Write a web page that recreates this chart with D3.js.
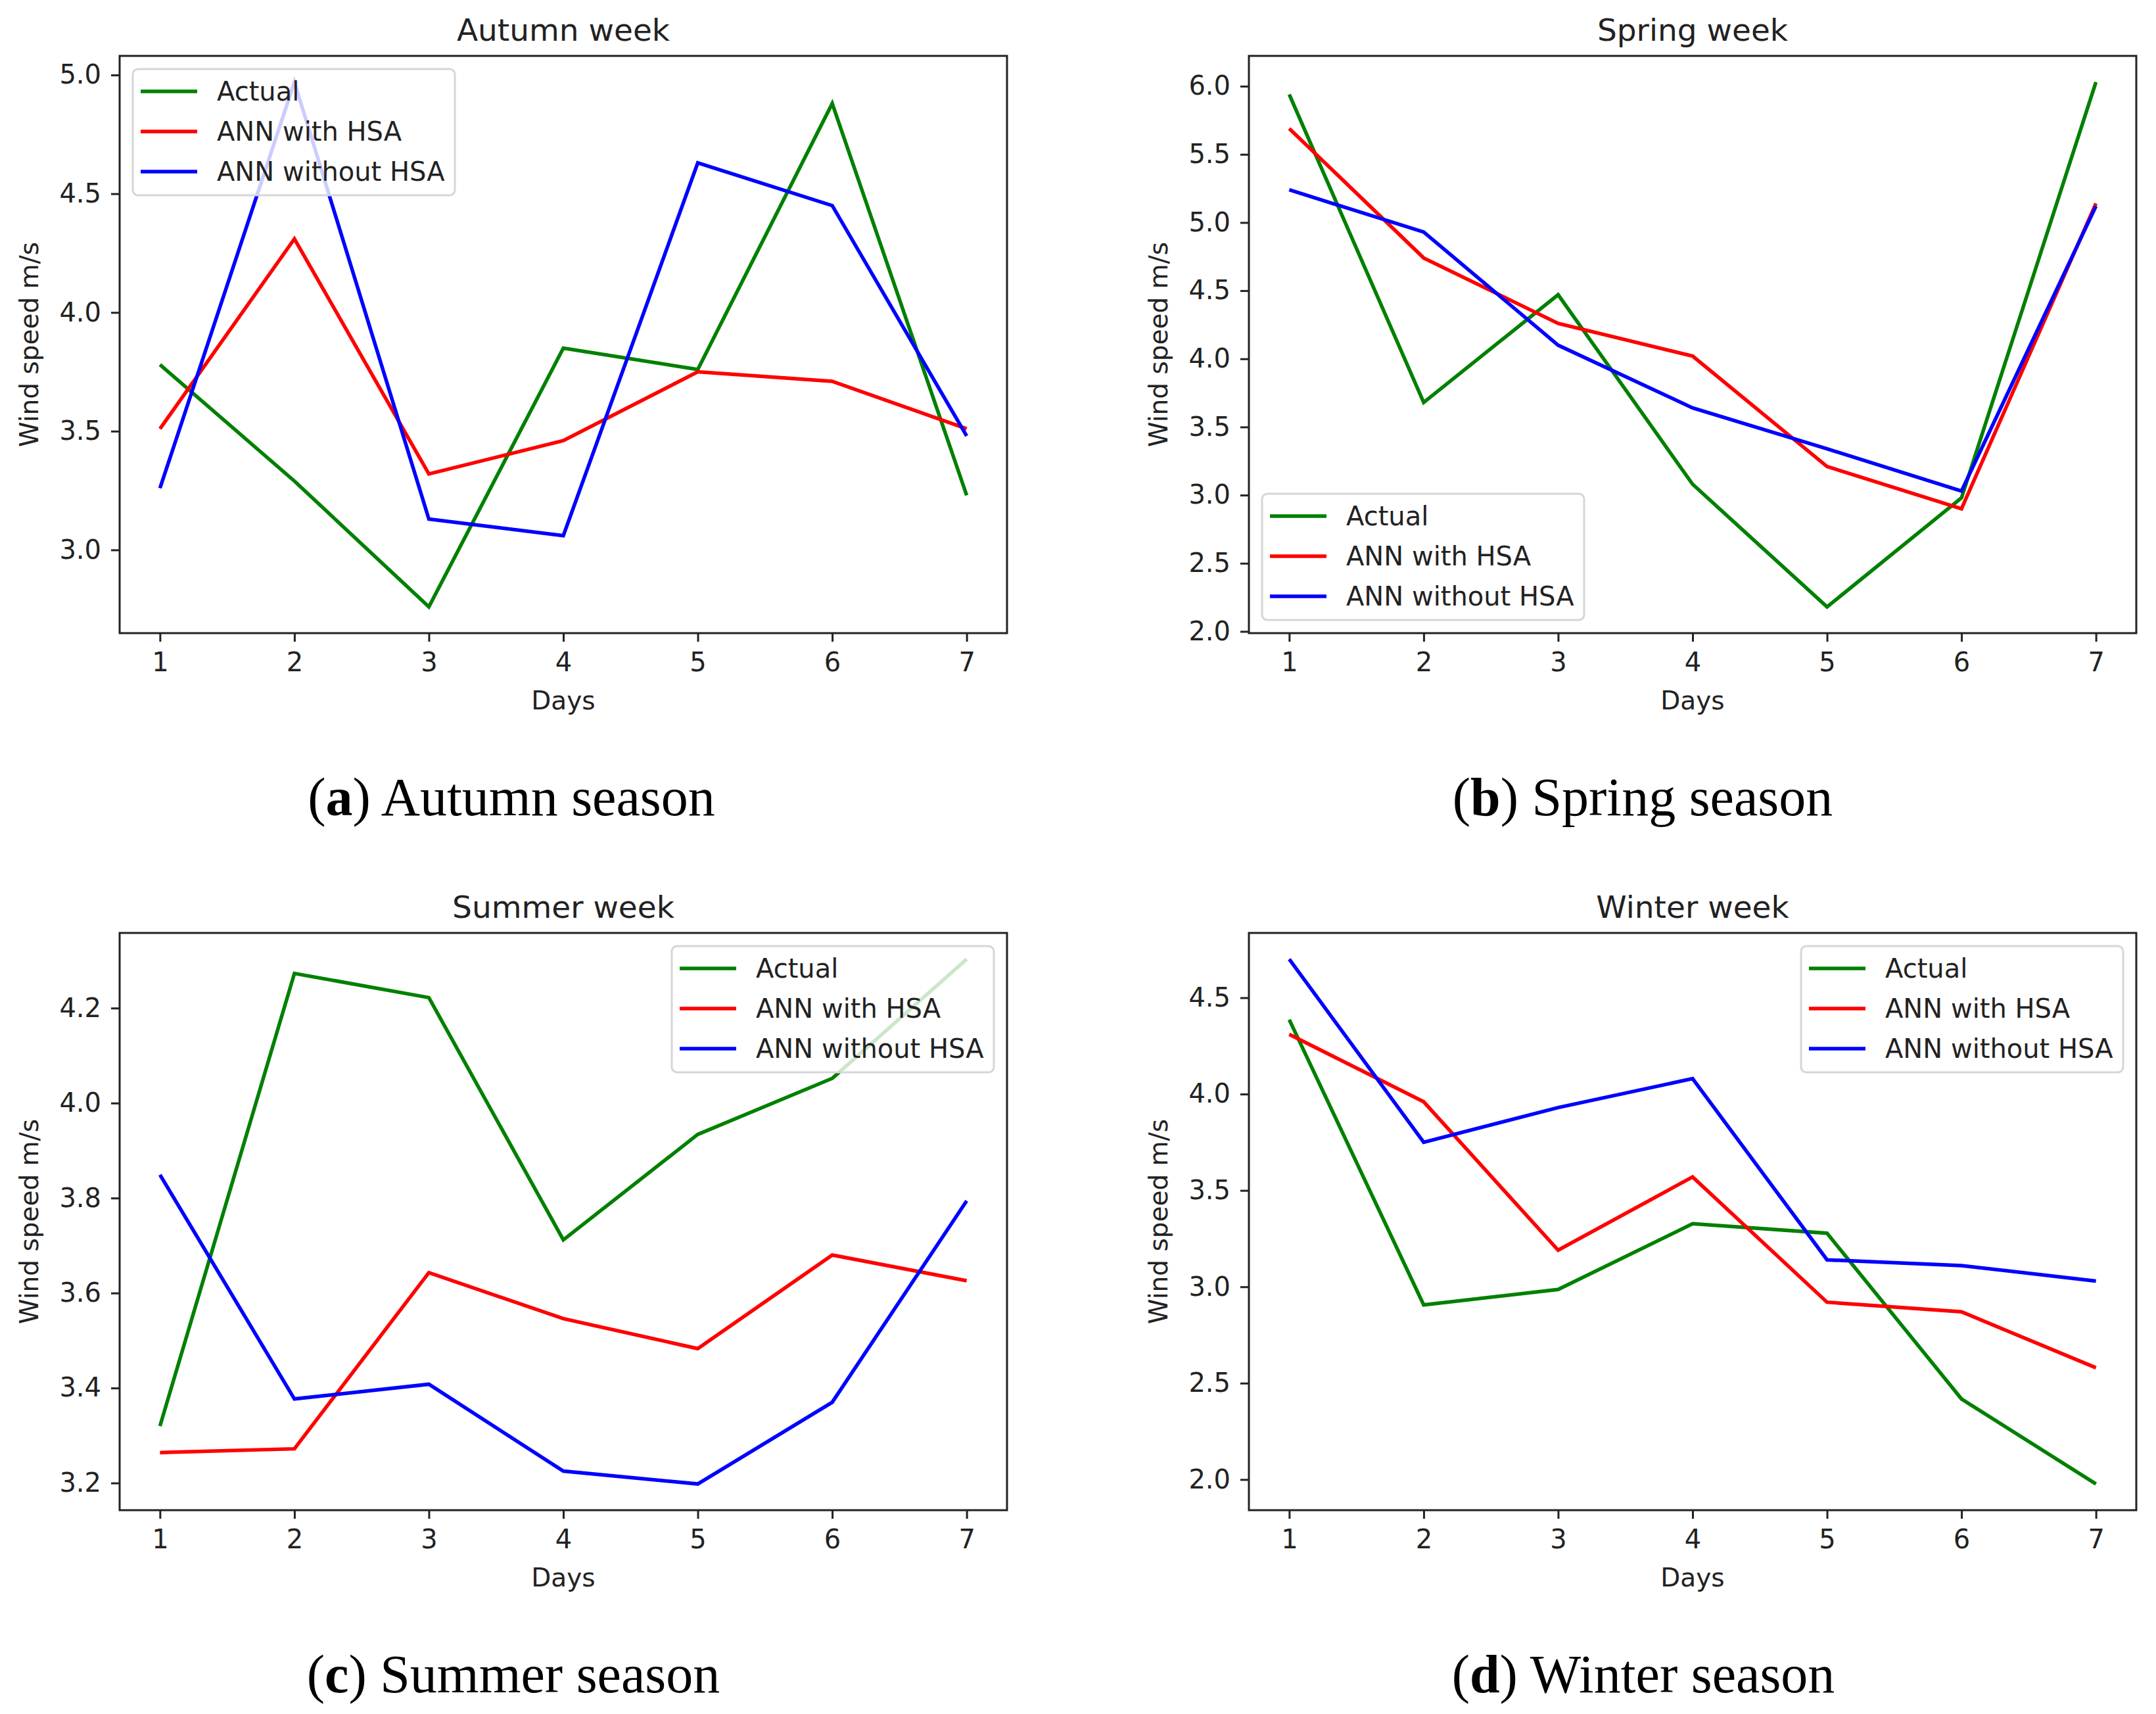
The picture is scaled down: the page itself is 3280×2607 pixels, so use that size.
<!DOCTYPE html>
<html>
<head>
<meta charset="utf-8">
<script src="https://cdn.jsdelivr.net/npm/d3@7"></script>
<style>
  body { margin: 0; background: #fff; }
  svg { display: block; }
</style>
</head>
<body>
<svg id="chart" width="3280" height="2607"></svg>
<script>
// days on the x axis
const days = [1, 2, 3, 4, 5, 6, 7];
const seriesNames = ["Actual", "ANN with HSA", "ANN without HSA"];
const seriesColors = ["#008000", "#ff0000", "#0000ff"];

// autumn week
const autumnActual = [3.78, 3.29, 2.76, 3.85, 3.76, 4.88, 3.23];
const autumnHSA = [3.51, 4.31, 3.32, 3.46, 3.75, 3.71, 3.51];
const autumnNoHSA = [3.26, 4.97, 3.13, 3.06, 4.63, 4.45, 3.48];
const autumnTicks = [3.0, 3.5, 4.0, 4.5, 5.0];

// spring week
const springActual = [5.94, 3.68, 4.47, 3.08, 2.18, 2.98, 6.03];
const springHSA = [5.69, 4.74, 4.26, 4.02, 3.21, 2.90, 5.14];
const springNoHSA = [5.24, 4.93, 4.10, 3.64, 3.34, 3.03, 5.12];
const springTicks = [2.0, 2.5, 3.0, 3.5, 4.0, 4.5, 5.0, 5.5, 6.0];

// summer week
const summerActual = [3.32, 4.273, 4.222, 3.712, 3.934, 4.052, 4.303];
const summerHSA = [3.264, 3.272, 3.643, 3.546, 3.483, 3.680, 3.626];
const summerNoHSA = [3.849, 3.377, 3.408, 3.225, 3.198, 3.370, 3.794];
const summerTicks = [3.2, 3.4, 3.6, 3.8, 4.0, 4.2];

// winter week
const winterActual = [4.386, 2.906, 2.986, 3.327, 3.278, 2.418, 1.977];
const winterHSA = [4.31, 3.96, 3.19, 3.57, 2.92, 2.87, 2.58];
const winterNoHSA = [4.70, 3.75, 3.93, 4.08, 3.14, 3.11, 3.03];
const winterTicks = [2.0, 2.5, 3.0, 3.5, 4.0, 4.5];

const panels = [
  { title: "Autumn week", letter: "a", caption: " Autumn season", series: [autumnActual, autumnHSA, autumnNoHSA], ticks: autumnTicks,
    left: 182, top: 85, capX: 778, legend: "upper left" },
  { title: "Spring week", letter: "b", caption: " Spring season", series: [springActual, springHSA, springNoHSA], ticks: springTicks,
    left: 1900, top: 85, capX: 2499, legend: "lower left" },
  { title: "Summer week", letter: "c", caption: " Summer season", series: [summerActual, summerHSA, summerNoHSA], ticks: summerTicks,
    left: 182, top: 1419, capX: 781, legend: "upper right" },
  { title: "Winter week", letter: "d", caption: " Winter season", series: [winterActual, winterHSA, winterNoHSA], ticks: winterTicks,
    left: 1900, top: 1419, capX: 2500, legend: "upper right" }
];

const W = 1350, H = 878;
const font = "DejaVu Sans";
const ink = "#222";
const svg = d3.select("#chart");

panels.forEach(p => {
  const g = svg.append("g").attr("transform", `translate(${p.left},${p.top})`);

  // matplotlib style 5% margins
  const x = d3.scaleLinear().domain([0.7, 7.3]).range([0, W]);
  const all = p.series.flat();
  const lo = d3.min(all), hi = d3.max(all), pad = (hi - lo) * 0.05;
  const y = d3.scaleLinear().domain([lo - pad, hi + pad]).range([H, 0]);

  const line = d3.line().x((d, i) => x(days[i])).y(d => y(d));
  p.series.forEach((s, i) => {
    g.append("path")
      .datum(s)
      .attr("d", line)
      .attr("fill", "none")
      .attr("stroke", seriesColors[i])
      .attr("stroke-width", 5.5)
      .attr("stroke-linejoin", "miter");
  });

  // axes
  const xAxis = g.append("g").attr("transform", `translate(0,${H})`)
    .call(d3.axisBottom(x).tickValues(days).tickSize(13).tickPadding(17).tickFormat(d3.format("d")));
  const yAxis = g.append("g")
    .call(d3.axisLeft(y).tickValues(p.ticks).tickSize(13).tickPadding(15).tickFormat(d3.format(".1f")));
  [xAxis, yAxis].forEach(a => {
    a.select(".domain").remove();
    a.selectAll("line").attr("stroke", ink).attr("stroke-width", 3);
    a.selectAll("text").attr("font-family", font).attr("font-size", 40).attr("fill", ink);
  });

  g.append("rect")
    .attr("width", W).attr("height", H)
    .attr("fill", "none").attr("stroke", ink).attr("stroke-width", 3);

  // titles and labels
  g.append("text").attr("x", W / 2).attr("y", -23)
    .attr("text-anchor", "middle").attr("font-family", font).attr("font-size", 47).attr("fill", ink)
    .text(p.title);
  g.append("text").attr("x", W / 2).attr("y", H + 116)
    .attr("text-anchor", "middle").attr("font-family", font).attr("font-size", 39).attr("fill", ink)
    .text("Days");
  g.append("text")
    .attr("transform", `translate(-138,${H / 2}) rotate(-90)`)
    .attr("text-anchor", "middle").attr("dominant-baseline", "central")
    .attr("font-family", font).attr("font-size", 39).attr("fill", ink)
    .text("Wind speed m/s");

  // legend
  const lw = 490, lh = 192;
  const lx = p.legend === "upper right" ? W - 20 - lw : 20;
  const ly = p.legend === "lower left" ? H - 20 - lh : 20;
  const lg = g.append("g").attr("transform", `translate(${lx},${ly})`);
  lg.append("rect").attr("width", lw).attr("height", lh).attr("rx", 8)
    .attr("fill", "#fff").attr("fill-opacity", 0.8)
    .attr("stroke", "#d6d6d6").attr("stroke-width", 3);
  seriesNames.forEach((n, i) => {
    const ry = 34 + i * 61;
    lg.append("line").attr("x1", 12).attr("x2", 98).attr("y1", ry).attr("y2", ry)
      .attr("stroke", seriesColors[i]).attr("stroke-width", 5.5);
    lg.append("text").attr("x", 128).attr("y", ry).attr("dominant-baseline", "central")
      .attr("font-family", font).attr("font-size", 40).attr("fill", ink).text(n);
  });

  // subfigure caption
  const cap = svg.append("text")
    .attr("x", p.capX).attr("y", p.top + 1155)
    .attr("text-anchor", "middle")
    .attr("font-family", "Liberation Serif").attr("font-size", 82).attr("fill", "#000");
  cap.append("tspan").text("(");
  cap.append("tspan").attr("font-weight", "bold").text(p.letter);
  cap.append("tspan").text(")" + p.caption);
});
</script>
</body>
</html>
